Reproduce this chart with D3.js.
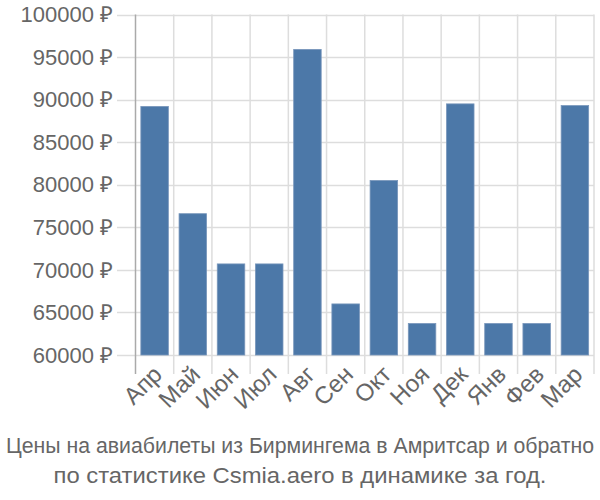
<!DOCTYPE html>
<html>
<head>
<meta charset="utf-8">
<script src="https://cdn.jsdelivr.net/npm/d3@7"></script>
<style>
  body { margin: 0; background: #fff; }
  text { font-family: "Liberation Sans", Arial, sans-serif; fill: #666; }
</style>
</head>
<body>
<svg id="chart" width="600" height="500"></svg>
<script>
var months = ['Апр', 'Май', 'Июн', 'Июл', 'Авг', 'Сен', 'Окт', 'Ноя', 'Дек', 'Янв', 'Фев', 'Мар'];
var prices = [89200, 76600, 70700, 70700, 95900, 66000, 80500, 63700, 89500, 63700, 63700, 89300];
var yTicks = [60000, 65000, 70000, 75000, 80000, 85000, 90000, 95000, 100000];
var titleLines = ['Цены на авиабилеты из Бирмингема в Амритсар и обратно',
                  'по статистике Csmia.aero в динамике за год.'];
var titleWidths = [588, 493];

var svg = d3.select('#chart');
var plotLeft = 135.5, plotRight = 594, plotTop = 14.5, plotBottom = 355;

var x = d3.scaleBand()
    .domain(months)
    .range([plotLeft, plotRight])
    .paddingInner(0.28)
    .paddingOuter(0.14);

var y = d3.scaleLinear()
    .domain([60000, 100000])
    .range([plotBottom, plotTop]);

var grid = svg.append('g');

//horizontal grid
grid.selectAll('.hline')
    .data(yTicks)
    .enter().append('line')
    .attr('x1', 117).attr('x2', plotRight)
    .attr('y1', function(d) { return Math.round(y(d)) + 0.5; })
    .attr('y2', function(d) { return Math.round(y(d)) + 0.5; })
    .attr('stroke', '#ddd').attr('stroke-width', 1.5);

//vertical grid at band edges
var edges = months.map(function(m) { return x(m) - x.step() * 0.14; });
edges.push(plotRight);
grid.selectAll('.vline')
    .data(edges.slice(1))
    .enter().append('line')
    .attr('x1', function(d) { return d; }).attr('x2', function(d) { return d; })
    .attr('y1', plotTop).attr('y2', 374)
    .attr('stroke', '#ddd').attr('stroke-width', 1.5);

//left axis line
svg.append('line')
    .attr('x1', plotLeft).attr('x2', plotLeft)
    .attr('y1', plotTop).attr('y2', 374)
    .attr('stroke', '#aaa').attr('stroke-width', 1.5);

svg.append('g').selectAll('rect')
    .data(prices)
    .enter().append('rect')
    .attr('x', function(d, i) { return x(months[i]); })
    .attr('width', x.bandwidth())
    .attr('y', function(d) { return y(d); })
    .attr('height', function(d) { return plotBottom - y(d); })
    .attr('fill', '#4c78a8')
    .attr('stroke', '#7896bb').attr('stroke-width', 0.8);

svg.append('g').selectAll('text')
    .data(yTicks)
    .enter().append('text')
    .attr('x', 113)
    .attr('y', function(d) { return y(d); })
    .attr('dy', '0.35em')
    .attr('text-anchor', 'end')
    .style('font-size', '22px')
    .text(function(d) { return d + ' ₽'; });

svg.append('g').selectAll('text')
    .data(months)
    .enter().append('text')
    .attr('transform', function(d) {
        return 'translate(' + (x(d) + x.bandwidth() / 2 + 3) + ',370) rotate(-45)';
    })
    .attr('text-anchor', 'end')
    .attr('dy', '0.35em')
    .style('font-size', '24px')
    .text(function(d) { return d; });

svg.append('g').selectAll('text')
    .data(titleLines)
    .enter().append('text')
    .attr('x', 300)
    .attr('y', function(d, i) { return 453 + i * 30; })
    .attr('text-anchor', 'middle')
    .attr('textLength', function(d, i) { return titleWidths[i]; })
    .attr('lengthAdjust', 'spacingAndGlyphs')
    .style('font-size', '21.5px')
    .text(function(d) { return d; });
</script>
</body>
</html>
